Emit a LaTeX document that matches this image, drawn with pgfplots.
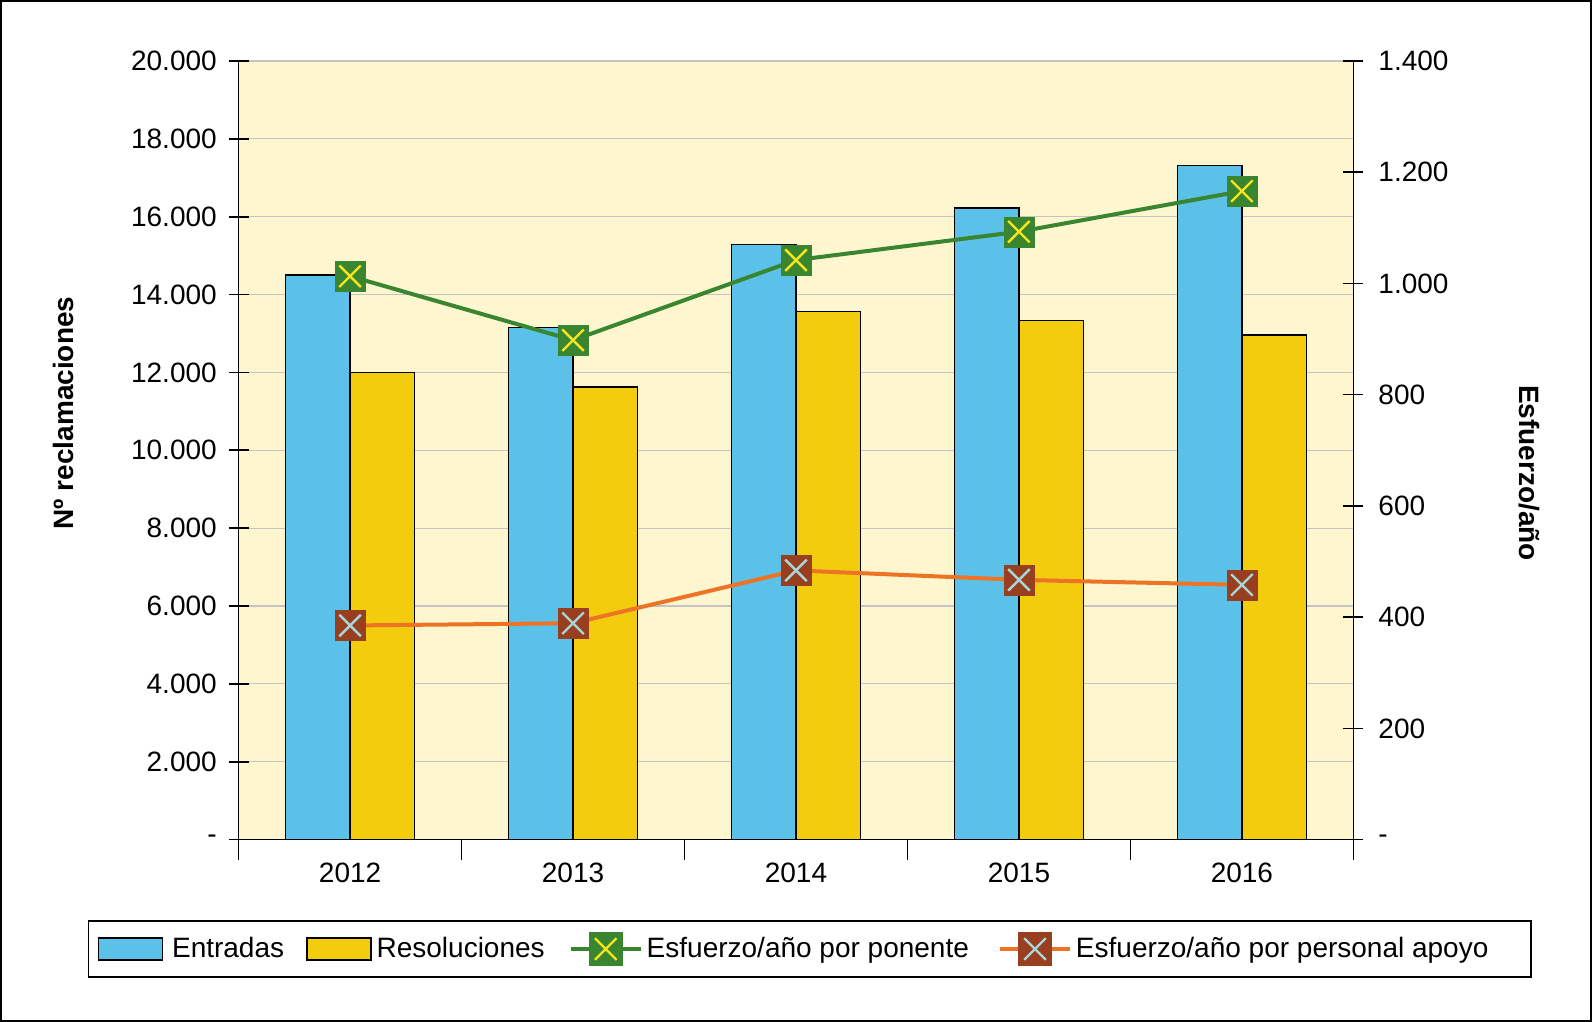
\documentclass[border=0pt]{standalone}
\usepackage{pgfplots}
\pgfplotsset{compat=1.18}
\usepackage{fontspec}
\setmainfont{Liberation Sans}
\definecolor{bgy}{HTML}{FDF6CE}
\definecolor{cblue}{HTML}{5BC1E8}
\definecolor{cyel}{HTML}{F3CC0E}
\definecolor{cgreen}{HTML}{3A8530}
\definecolor{cxy}{HTML}{F5E51A}
\definecolor{corange}{HTML}{EC7424}
\definecolor{cbrown}{HTML}{973F1F}
\definecolor{cxc}{HTML}{A9D6D8}
\definecolor{gridgray}{HTML}{C4C4C4}
\newcommand{\fs}{\fontsize{14}{16.8}\selectfont}
\begin{document}
\begin{tikzpicture}
\useasboundingbox (0,0) rectangle (796pt,511pt);
\draw[line width=1pt] (0.5pt,0.5pt) rectangle (795.5pt,510.5pt);
\begin{axis}[
  at={(119.3pt,91.2pt)}, anchor=south west, scale only axis,
  width=557.4pt, height=389.3pt,
  xmin=-0.5, xmax=4.5, ymin=0, ymax=20000,
  scaled y ticks=false,
  axis x line*=bottom, axis y line*=left,
  axis line style={line width=0.8pt, black},
  axis background/.style={fill=bgy},
  xtick={0,1,2,3,4}, xticklabels={2012,2013,2014,2015,2016},
  major x tick style={draw=none},
  minor xtick={-0.5,0.5,1.5,2.5,3.5,4.5},
  ytick={0,2000,...,20000},
  yticklabels={-,2.000,4.000,6.000,8.000,10.000,12.000,14.000,16.000,18.000,20.000},
  ymajorgrids, major grid style={draw=gridgray, line width=0.6pt},
  major tick length=10pt, minor tick length=10pt, tick align=center,
  tick style={black, line width=0.8pt},
  ticklabel style={font=\fs},
  xticklabel style={yshift=1.8pt},
  yticklabel style={xshift=-2.4pt},
  /pgf/number format/assume math mode=true,
  ybar, bar width=0.29,
  ylabel={\bfseries N\textordmasculine{} reclamaciones},
  every axis y label/.style={at={(axis description cs:-0.1575,0.5479)}, rotate=90, anchor=center, font=\fs},
]
\addplot[fill=cblue, draw=black, line width=0.7pt, bar shift=-0.145] coordinates {(0,14500) (1,13150) (2,15280) (3,16220) (4,17320)};
\addplot[fill=cyel, draw=black, line width=0.7pt, bar shift=0.145] coordinates {(0,12000) (1,11630) (2,13560) (3,13330) (4,12960)};
\end{axis}
\begin{axis}[
  at={(119.3pt,91.2pt)}, anchor=south west, scale only axis,
  width=557.4pt, height=389.3pt,
  xmin=-0.5, xmax=4.5, ymin=0, ymax=1400,
  scaled y ticks=false,
  axis x line=none, axis y line*=right,
  axis line style={line width=0.8pt, black},
  ytick={0,200,...,1400},
  yticklabels={-,200,400,600,800,1.000,1.200,1.400},
  major tick length=10pt, tick align=center,
  tick style={black, line width=0.8pt},
  ticklabel style={font=\fs},
  yticklabel style={xshift=4pt},
  /pgf/number format/assume math mode=true,
  ylabel={\bfseries Esfuerzo/año},
  every axis y label/.style={at={(axis description cs:1.1575,0.4709)}, rotate=-90, anchor=center, font=\fs},
  legend columns=4, legend cell align=left,
  legend style={at={(0.5124,-0.1405)}, anchor=center, draw=black, line width=0.8pt, font=\fs,
    inner xsep=4.5pt, inner ysep=5.6pt,
    /tikz/column 2/.style={column sep=9pt},
    /tikz/column 4/.style={column sep=10pt},
    /tikz/column 6/.style={column sep=12.5pt}},
]
\addlegendimage{legend image code/.code={\fill[cblue, draw=black, line width=0.7pt] (0pt,-5.5pt) rectangle (32pt,5.5pt); \path (34.5pt,0pt);}}
\addlegendentry{Entradas}
\addlegendimage{legend image code/.code={\fill[cyel, draw=black, line width=0.7pt] (0pt,-5.5pt) rectangle (32pt,5.5pt); \path (32.5pt,0pt);}}
\addlegendentry{Resoluciones}
\addplot[draw=cgreen, line width=2pt, mark=square*, mark size=7.5pt, mark options={fill=cgreen, draw=cgreen, line width=0.1pt},
  legend image code/.code={\draw[cgreen, line width=2pt] (0pt,0pt) -- (35pt,0pt);
    \fill[cgreen] (10pt,-7.5pt) rectangle (25pt,7.5pt);
    \draw[cxy, line width=1.2pt] (12.1pt,-5.4pt) -- (22.9pt,5.4pt) (12.1pt,5.4pt) -- (22.9pt,-5.4pt);}]
  coordinates {(0,1013) (1,898) (2,1042) (3,1093) (4,1166)};
\addlegendentry{Esfuerzo/año por ponente}
\addplot[forget plot, only marks, mark=x, mark size=7.6pt, mark options={draw=cxy, line width=1.2pt}]
  coordinates {(0,1013) (1,898) (2,1042) (3,1093) (4,1166)};
\addplot[draw=corange, line width=2pt, mark=square*, mark size=7.5pt, mark options={fill=cbrown, draw=cbrown, line width=0.1pt},
  legend image code/.code={\draw[corange, line width=2pt] (0pt,0pt) -- (35pt,0pt);
    \fill[cbrown] (10pt,-7.5pt) rectangle (25pt,7.5pt);
    \draw[cxc, line width=1.2pt] (12.1pt,-5.4pt) -- (22.9pt,5.4pt) (12.1pt,5.4pt) -- (22.9pt,-5.4pt);}]
  coordinates {(0,385) (1,389) (2,484) (3,467) (4,458)};
\addlegendentry{Esfuerzo/año por personal apoyo\hspace*{14.8pt}}
\addplot[forget plot, only marks, mark=x, mark size=7.6pt, mark options={draw=cxc, line width=1.2pt}]
  coordinates {(0,385) (1,389) (2,484) (3,467) (4,458)};
\end{axis}
\end{tikzpicture}
\end{document}
